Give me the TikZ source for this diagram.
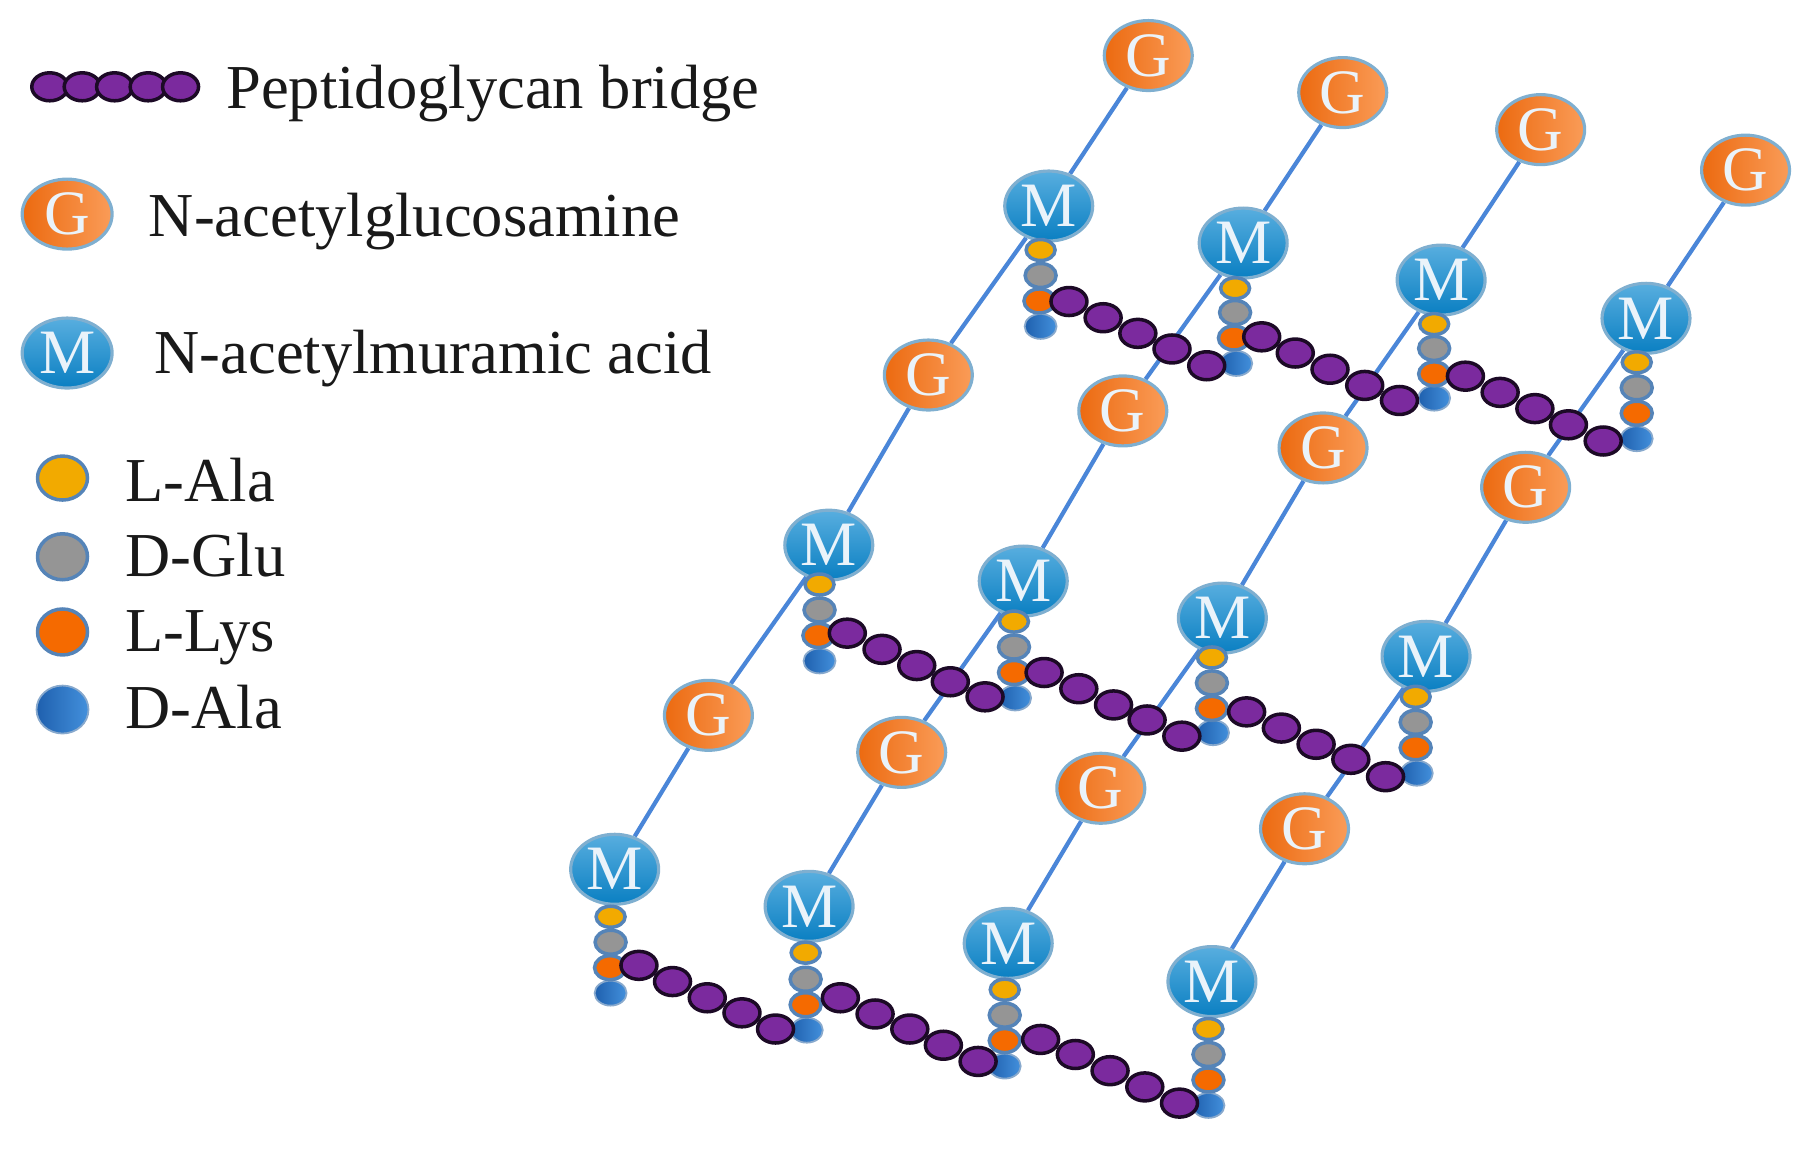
\documentclass[tikz,border=0pt]{standalone}
\usepackage{fontspec}
\setmainfont{Liberation Serif}
\usetikzlibrary{shapes.geometric,backgrounds}

\definecolor{chainblue}{HTML}{4A86D8}
\definecolor{rimblue}{HTML}{7FAFD0}
\definecolor{stemrim}{HTML}{5584B8}
\definecolor{glcdark}{HTML}{EC6A10}
\definecolor{glclight}{HTML}{FA9C58}
\definecolor{murtop}{HTML}{58AEDF}
\definecolor{murbot}{HTML}{0A7FC2}
\definecolor{alafill}{HTML}{F2AA00}
\definecolor{glufill}{HTML}{959595}
\definecolor{lysfill}{HTML}{F56A00}
\definecolor{daladark}{HTML}{1F60AE}
\definecolor{dalalight}{HTML}{4390DC}
\definecolor{beadfill}{HTML}{7B2A9E}
\definecolor{beadrim}{HTML}{1C0A26}
\definecolor{lettertint}{HTML}{EAF3FA}
\tikzset{
    glcnode/.style={ellipse, draw=rimblue, line width=0.9pt, minimum width=0.88cm, minimum height=0.70cm, inner sep=0pt,
        left color=glcdark, right color=glclight, text=lettertint, font=\fontsize{18}{18}\selectfont},
    murnode/.style={ellipse, draw=rimblue, line width=0.9pt, minimum width=0.88cm, minimum height=0.70cm, inner sep=0pt,
        top color=murtop, bottom color=murbot, text=lettertint, font=\fontsize{18}{18}\selectfont},
    alanode/.style={ellipse, draw=stemrim, line width=1pt, fill=alafill, minimum width=0.29cm, minimum height=0.21cm, inner sep=0pt},
    glunode/.style={ellipse, draw=stemrim, line width=1pt, fill=glufill, minimum width=0.31cm, minimum height=0.24cm, inner sep=0pt},
    lysnode/.style={ellipse, draw=stemrim, line width=1pt, fill=lysfill, minimum width=0.31cm, minimum height=0.24cm, inner sep=0pt},
    dalanode/.style={ellipse, draw=stemrim!70, line width=0.5pt, left color=daladark, right color=dalalight, minimum width=0.32cm, minimum height=0.25cm, inner sep=0pt},
    bead/.style={ellipse, draw=beadrim, line width=1pt, fill=beadfill, minimum width=0.36cm, minimum height=0.28cm, inner sep=0pt},
    keytext/.style={anchor=west, inner sep=0pt, text=black!90, font=\fontsize{17.8}{18}\selectfont},
    chain/.style={draw=chainblue, line width=1.2pt}
}

\begin{document}
\begin{tikzpicture}[x=0.011575cm, y=-0.011575cm]
    \useasboundingbox (0,0) rectangle (1568,993);

    % key
    \node[bead] (key1) at (43,75) {};
    \node[bead] (key2) at (71,75) {};
    \node[bead] (key3) at (99,75) {};
    \node[bead] (key4) at (128,75) {};
    \node[bead] (key5) at (156,75) {};
    \node[keytext] (keybridge) at (195,81) {Peptidoglycan bridge};
    \node[glcnode, minimum width=0.9cm] (keyg) at (58,185) {G};
    \node[keytext] (keyglc) at (128,191) {N-acetylglucosamine};
    \node[murnode, minimum width=0.9cm] (keym) at (58,305) {M};
    \node[keytext] (keymur) at (133,310) {N-acetylmuramic acid};
    \node[alanode, minimum width=0.5cm, minimum height=0.44cm] (keyala) at (54,413) {};
    \node[keytext] (keylala) at (108,415) {L-Ala};
    \node[glunode, minimum width=0.5cm, minimum height=0.46cm] (keyglu) at (54,481) {};
    \node[keytext] (keydglu) at (108,480) {D-Glu};
    \node[lysnode, minimum width=0.5cm, minimum height=0.46cm] (keylys) at (54,546) {};
    \node[keytext] (keylys2) at (108,551) {L-Lys};
    \node[dalanode, minimum width=0.52cm, minimum height=0.48cm] (keydala) at (54,613) {};
    \node[keytext] (keydala2) at (108,611) {D-Ala};

    % sugars
    \node[glcnode] (g1a) at (992,48) {G};
    \node[murnode] (m1a) at (906,178) {M};
    \node[glcnode] (g2a) at (802,324) {G};
    \node[murnode] (m2a) at (716,471) {M};
    \node[glcnode] (g3a) at (612,618) {G};
    \node[murnode] (m3a) at (531,751) {M};

    \node[glcnode] (g1b) at (1160,80) {G};
    \node[murnode] (m1b) at (1074,210) {M};
    \node[glcnode] (g2b) at (970,355) {G};
    \node[murnode] (m2b) at (884,502) {M};
    \node[glcnode] (g3b) at (779,650) {G};
    \node[murnode] (m3b) at (699,783) {M};

    \node[glcnode] (g1c) at (1331,112) {G};
    \node[murnode] (m1c) at (1245,242) {M};
    \node[glcnode] (g2c) at (1143,387) {G};
    \node[murnode] (m2c) at (1056,534) {M};
    \node[glcnode] (g3c) at (951,681) {G};
    \node[murnode] (m3c) at (871,815) {M};

    \node[glcnode] (g1d) at (1508,147) {G};
    \node[murnode] (m1d) at (1422,275) {M};
    \node[glcnode] (g2d) at (1318,421) {G};
    \node[murnode] (m2d) at (1232,567) {M};
    \node[glcnode] (g3d) at (1127,716) {G};
    \node[murnode] (m3d) at (1047,848) {M};

    % stems, row 1
    \node[alanode] (ala1a) at (899,216) {};
    \node[glunode] (glu1a) at (899,238) {};
    \node[dalanode] (dala1a) at (899,282) {};
    \node[lysnode] (lys1a) at (898,260) {};
    \node[alanode] (ala1b) at (1067,249) {};
    \node[glunode] (glu1b) at (1067,270) {};
    \node[dalanode] (dala1b) at (1068,314) {};
    \node[lysnode] (lys1b) at (1066,292) {};
    \node[alanode] (ala1c) at (1239,280) {};
    \node[glunode] (glu1c) at (1239,301) {};
    \node[dalanode] (dala1c) at (1239,344) {};
    \node[lysnode] (lys1c) at (1239,323) {};
    \node[alanode] (ala1d) at (1414,313) {};
    \node[glunode] (glu1d) at (1414,335) {};
    \node[dalanode] (dala1d) at (1414,379) {};
    \node[lysnode] (lys1d) at (1414,357) {};

    % stems, row 2
    \node[alanode] (ala2a) at (708,505) {};
    \node[glunode] (glu2a) at (708,527) {};
    \node[dalanode] (dala2a) at (708,571) {};
    \node[lysnode] (lys2a) at (707,549) {};
    \node[alanode] (ala2b) at (876,537) {};
    \node[glunode] (glu2b) at (876,559) {};
    \node[dalanode] (dala2b) at (877,603) {};
    \node[lysnode] (lys2b) at (876,581) {};
    \node[alanode] (ala2c) at (1047,568) {};
    \node[glunode] (glu2c) at (1047,590) {};
    \node[dalanode] (dala2c) at (1048,633) {};
    \node[lysnode] (lys2c) at (1047,612) {};
    \node[alanode] (ala2d) at (1223,602) {};
    \node[glunode] (glu2d) at (1223,624) {};
    \node[dalanode] (dala2d) at (1224,668) {};
    \node[lysnode] (lys2d) at (1223,646) {};

    % stems, row 3
    \node[alanode] (ala3a) at (527.5,792) {};
    \node[glunode] (glu3a) at (527.5,814) {};
    \node[dalanode] (dala3a) at (527.5,858) {};
    \node[lysnode] (lys3a) at (527,836) {};
    \node[alanode] (ala3b) at (696,823) {};
    \node[glunode] (glu3b) at (696,846) {};
    \node[dalanode] (dala3b) at (697,890) {};
    \node[lysnode] (lys3b) at (696,868) {};
    \node[alanode] (ala3c) at (868,855) {};
    \node[glunode] (glu3c) at (868,877) {};
    \node[dalanode] (dala3c) at (868,921) {};
    \node[lysnode] (lys3c) at (868,899) {};
    \node[alanode] (ala3d) at (1044,889) {};
    \node[glunode] (glu3d) at (1044,911) {};
    \node[dalanode] (dala3d) at (1044,955) {};
    \node[lysnode] (lys3d) at (1044,933) {};

    % bridges, row 1
    \node[bead] (b1a1) at (923.5,260.5) {};
    \node[bead] (b1a2) at (953,274.5) {};
    \node[bead] (b1a3) at (983,288) {};
    \node[bead] (b1a4) at (1012.5,301.5) {};
    \node[bead] (b1a5) at (1042.5,316) {};
    \node[bead] (b1b1) at (1090,291) {};
    \node[bead] (b1b2) at (1119,305) {};
    \node[bead] (b1b3) at (1149,319) {};
    \node[bead] (b1b4) at (1179,333) {};
    \node[bead] (b1b5) at (1209,346) {};
    \node[bead] (b1c1) at (1266,325) {};
    \node[bead] (b1c2) at (1296,339) {};
    \node[bead] (b1c3) at (1326,353) {};
    \node[bead] (b1c4) at (1355,367) {};
    \node[bead] (b1c5) at (1385,381) {};

    % bridges, row 2
    \node[bead] (b2a1) at (732,547) {};
    \node[bead] (b2a2) at (762,561) {};
    \node[bead] (b2a3) at (792,575) {};
    \node[bead] (b2a4) at (821,589) {};
    \node[bead] (b2a5) at (851,602) {};
    \node[bead] (b2b1) at (902,581) {};
    \node[bead] (b2b2) at (932,595) {};
    \node[bead] (b2b3) at (962,609) {};
    \node[bead] (b2b4) at (991,622) {};
    \node[bead] (b2b5) at (1021,636) {};
    \node[bead] (b2c1) at (1077,615) {};
    \node[bead] (b2c2) at (1107,629) {};
    \node[bead] (b2c3) at (1137,643) {};
    \node[bead] (b2c4) at (1167,656) {};
    \node[bead] (b2c5) at (1197,671) {};

    % bridges, row 3
    \node[bead] (b3a1) at (552,834) {};
    \node[bead] (b3a2) at (581,848) {};
    \node[bead] (b3a3) at (611,862) {};
    \node[bead] (b3a4) at (641,875) {};
    \node[bead] (b3a5) at (670,889) {};
    \node[bead] (b3b1) at (726,862) {};
    \node[bead] (b3b2) at (756,876) {};
    \node[bead] (b3b3) at (786,889) {};
    \node[bead] (b3b4) at (815,903) {};
    \node[bead] (b3b5) at (845,917) {};
    \node[bead] (b3c1) at (899,898) {};
    \node[bead] (b3c2) at (929,911) {};
    \node[bead] (b3c3) at (959,925) {};
    \node[bead] (b3c4) at (989,939) {};
    \node[bead] (b3c5) at (1019,953) {};

    % chains go behind everything
    \begin{scope}[on background layer]
        \draw[chain] (g1a) -- (m1a);
        \draw[chain] (m1a) -- (g2a);
        \draw[chain] (g2a) -- (m2a);
        \draw[chain] (m2a) -- (g3a);
        \draw[chain] (g3a) -- (m3a);

        \draw[chain] (g1b) -- (m1b);
        \draw[chain] (m1b) -- (g2b);
        \draw[chain] (g2b) -- (m2b);
        \draw[chain] (m2b) -- (g3b);
        \draw[chain] (g3b) -- (m3b);

        \draw[chain] (g1c) -- (m1c);
        \draw[chain] (m1c) -- (g2c);
        \draw[chain] (g2c) -- (m2c);
        \draw[chain] (m2c) -- (g3c);
        \draw[chain] (g3c) -- (m3c);

        \draw[chain] (g1d) -- (m1d);
        \draw[chain] (m1d) -- (g2d);
        \draw[chain] (g2d) -- (m2d);
        \draw[chain] (m2d) -- (g3d);
        \draw[chain] (g3d) -- (m3d);
    \end{scope}
\end{tikzpicture}
\end{document}
